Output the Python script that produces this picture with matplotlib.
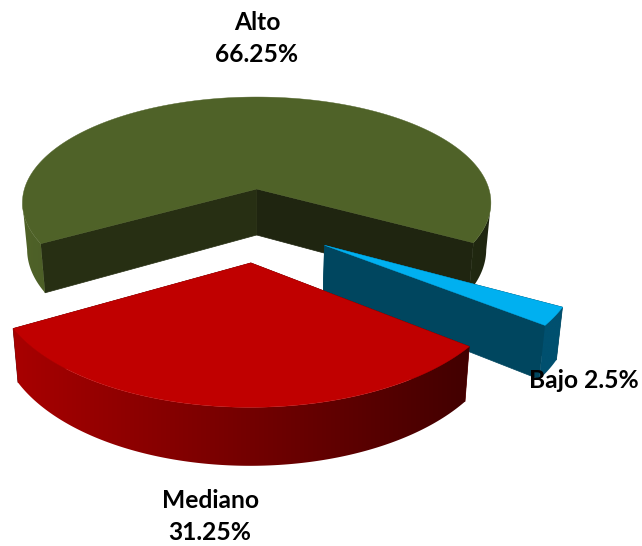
import numpy as np
import matplotlib
matplotlib.use('Agg')
import matplotlib.pyplot as plt
from matplotlib.colors import to_rgb, LinearSegmentedColormap
from matplotlib.patches import Polygon

categories = ['Alto', 'Bajo', 'Mediano']
values = [66.25, 2.5, 31.25]

top_colors = ['#4f6228', '#00b0f0', '#c00000']
side_left = ['#4f6228', '#00506f', '#a80000']
side_right = ['#1f2610', '#00506f', '#420000']
face_colors = [('#1f2510', '#272f13'), ('#00465f', '#00465f'), ('#600000', '#600000')]

# pie set-up
start_angle = 209.5
explode = 0.326
cx, cy = 257.0, 224.4
rad = 242.5
bb = 113.3
kk = 0.1353
height = 48.0
shrink = 0.02


def project(X, Y):
    w = 1 + kk * Y
    return cx + rad * X / w, cy - bb * Y / w


def project_low(X, Y):
    x, y = project(X, Y)
    return cx + (x - cx) * (1 - shrink), y + height / (1 + kk * Y)


def draw_slice(ax, a0, a1, idx, z):
    mid = np.radians((a0 + a1) / 2)
    ox, oy = explode * np.cos(mid), explode * np.sin(mid)
    th = np.radians(np.linspace(a0, a1, 360))
    X = ox + np.cos(th)
    Y = oy + np.sin(th)
    x_hi, y_hi = project(X, Y)
    x_lo, y_lo = project_low(X, Y)
    x_c, y_c = project(ox, oy)
    xl_c, yl_c = project_low(ox, oy)

    # the two cut faces, the one further back first
    faces = [(0, face_colors[idx][1]), (-1, face_colors[idx][0])]
    faces.sort(key=lambda f: -Y[f[0]])
    for n, col in faces:
        ax.fill([x_c, x_hi[n], x_lo[n], xl_c], [y_c, y_hi[n], y_lo[n], yl_c],
                color=col, lw=0.5, zorder=z)

    # outer rim up to the silhouette, a left to right gradient clipped to its outline
    xmin, xmax = min(x_hi.min(), x_lo.min()), max(x_hi.max(), x_lo.max())
    ymin, ymax = y_hi.min(), y_lo.max()
    cmap = LinearSegmentedColormap.from_list('rim', [to_rgb(side_left[idx]), to_rgb(side_right[idx])])
    front = np.sin(th) < -kk / (1 + kk * oy)
    cuts = np.flatnonzero(np.diff(front)) + 1
    for run in np.split(np.arange(len(th)), cuts):
        if not front[run[0]]:
            continue
        outline = Polygon(np.c_[np.r_[x_hi[run], x_lo[run][::-1]], np.r_[y_hi[run], y_lo[run][::-1]]],
                          closed=True, fc='none', ec='none', transform=ax.transData)
        ax.add_patch(outline)
        img = ax.imshow(np.linspace(0, 1, 256).reshape(1, -1), cmap=cmap, aspect='auto',
                        extent=(xmin, xmax, ymax, ymin), zorder=z + 0.1, interpolation='bilinear')
        img.set_clip_path(outline)

    # top of the slice
    ax.fill(np.r_[x_c, x_hi], np.r_[y_c, y_hi], color=top_colors[idx], lw=0.3, zorder=z + 0.2)


fig = plt.figure(figsize=(6.42, 5.46), dpi=100)
ax = fig.add_axes([0, 0, 1, 1])
ax.axis('off')

sweeps = np.array(values) / sum(values) * 360
ang = start_angle
for i in range(len(values)):
    # Alto at the back, then Bajo, Mediano last
    draw_slice(ax, ang, ang - sweeps[i], i, i + 1)
    ang = ang - sweeps[i]

ax.set_xlim(0, 642)
ax.set_ylim(546, 0)

font = dict(family='Lato', fontweight='bold', fontsize=17.7, color='black', ha='center', va='center', zorder=10)
ax.text(257, 22, categories[0], **font)
ax.text(257, 54, '%s%%' % values[0], **font)
ax.text(583.5, 381, '%s %s%%' % (categories[1], values[1]), **font)
ax.text(210.5, 500, categories[2], **font)
ax.text(210, 533, '%s%%' % values[2], **font)

fig.savefig('out.png', dpi=100)
